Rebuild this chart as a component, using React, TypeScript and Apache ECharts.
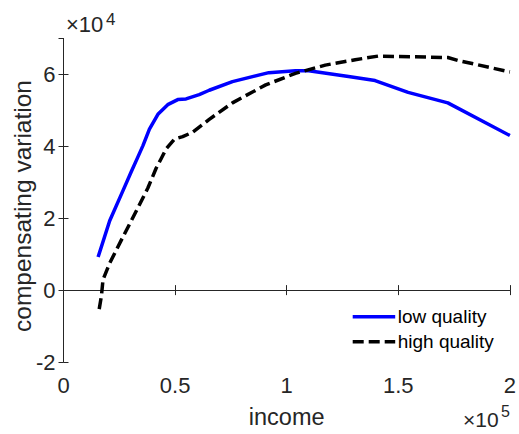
import React, { useEffect, useRef } from "react";
import * as echarts from "echarts";

// income (x) and compensating variation (y) for each series
const lowX = [15500, 20700, 26600, 30400, 33300, 35600, 38500, 42300, 46700, 51200, 54900, 60800, 65300, 75700, 92000, 103900, 109900, 127700, 139600, 154400, 172200, 200000];
const lowY = [9200, 19300, 27600, 33000, 37000, 40200, 44800, 48900, 51600, 53000, 53200, 54400, 55600, 58000, 60500, 61000, 61000, 59400, 58300, 55000, 52100, 43000];
const highX = [16000, 17000, 17700, 20700, 25900, 32600, 37800, 41500, 43800, 46000, 49700, 53400, 57800, 65300, 75700, 90600, 103900, 117300, 130700, 141000, 172200, 176700, 200000];
const highY = [-5300, -1600, 2900, 7500, 13900, 22000, 28400, 33900, 36600, 39300, 42000, 42700, 43900, 47500, 52100, 57100, 60300, 62600, 64100, 65100, 64700, 63900, 60700];
const seriesNames = ["low quality", "high quality"];
const seriesColors = ["#0000ff", "#000000"];
const xLabelText = "income";
const yLabelText = "compensating variation";

const FONT = "'Liberation Sans', Arial, Helvetica, sans-serif";
const AX = "#262626";
const DASH = [11, 5];

export default function App() {
  const ref = useRef<HTMLDivElement>(null);
  useEffect(() => {
    if (!ref.current) return;
    const chart = echarts.init(ref.current, undefined, { renderer: "svg" });
    const lowData = lowX.map((x, i) => [x, lowY[i]]);
    const highData = highX.map((x, i) => [x, highY[i]]);
    const xBase = {
      type: "value" as const,
      min: 0,
      max: 200000,
      interval: 50000,
      splitLine: { show: false },
      axisLine: { show: true, lineStyle: { color: AX, width: 1 } },
      axisTick: { show: true, inside: true, length: 5, lineStyle: { color: AX } },
    };
    const yBase = {
      type: "value" as const,
      min: -20000,
      max: 70000,
      interval: 20000,
      splitLine: { show: false },
      axisLine: { show: true, lineStyle: { color: AX, width: 1 } },
      axisTick: { show: true, inside: true, length: 5, lineStyle: { color: AX } },
    };
    const legendX = 352.7;
    const legendW = 42.5;
    const legendY = [316.7, 341.7];
    const legendGraphics: any[] = [];
    seriesNames.forEach((name, i) => {
      legendGraphics.push({
        type: "line",
        shape: { x1: legendX, y1: legendY[i], x2: legendX + legendW, y2: legendY[i] },
        style: {
          stroke: seriesColors[i],
          lineWidth: 3.5,
          lineDash: i === 1 ? DASH : null,
          lineCap: "butt",
        },
      });
      legendGraphics.push({
        type: "text",
        x: legendX + legendW + 2.5,
        y: legendY[i],
        style: {
          text: name,
          font: `19px ${FONT}`,
          fill: "#000",
          align: "left",
          verticalAlign: "middle",
        },
      });
    });
    chart.setOption({
      animation: false,
      backgroundColor: "#fff",
      grid: { left: 63.5, right: 7, top: 38.5, bottom: 68, containLabel: false },
      xAxis: [
        {
          ...xBase,
          position: "bottom",
          name: xLabelText,
          nameLocation: "middle",
          nameGap: 43,
          nameTextStyle: { fontSize: 23.5, fontFamily: FONT, color: AX },
          axisLabel: {
            margin: 12,
            fontSize: 22,
            fontFamily: FONT,
            color: AX,
            formatter: (v: number) => String(v / 100000),
          },
        },
        { ...xBase, position: "top", axisLabel: { show: false } },
      ],
      yAxis: [
        {
          ...yBase,
          position: "left",
          axisLabel: {
            margin: 8,
            fontSize: 22,
            fontFamily: FONT,
            color: AX,
            showMaxLabel: false,
            formatter: (v: number) => (v === 70000 ? "" : String(v / 10000)),
          },
        },
        { ...yBase, position: "right", axisLabel: { show: false } },
      ],
      series: [
        {
          name: seriesNames[0],
          type: "line",
          data: lowData,
          symbol: "none",
          lineStyle: { color: seriesColors[0], width: 3.5, cap: "butt", join: "round" },
          itemStyle: { color: seriesColors[0] },
          xAxisIndex: 0,
          yAxisIndex: 0,
        },
        {
          name: seriesNames[1],
          type: "line",
          data: highData,
          symbol: "none",
          lineStyle: { color: seriesColors[1], width: 3.5, type: DASH, cap: "butt", join: "round" },
          itemStyle: { color: seriesColors[1] },
          xAxisIndex: 0,
          yAxisIndex: 0,
        },
      ],
      graphic: [
        {
          type: "text",
          x: 22,
          y: 206,
          rotation: Math.PI / 2,
          style: {
            text: yLabelText,
            font: `24.5px ${FONT}`,
            fill: AX,
            align: "center",
            verticalAlign: "middle",
          },
        },
        { type: "text", left: 66, top: 13.5, style: { text: "×10", font: `22px ${FONT}`, fill: AX } },
        { type: "text", left: 106, top: 11, style: { text: "4", font: `17px ${FONT}`, fill: AX } },
        { type: "text", left: 463, top: 409, style: { text: "×10", font: `21px ${FONT}`, fill: AX } },
        { type: "text", left: 501, top: 403, style: { text: "5", font: `16px ${FONT}`, fill: AX } },
        ...legendGraphics,
      ],
    });
    return () => chart.dispose();
  }, []);
  return (
    <div
      ref={ref}
      style={{ position: "fixed", left: 0, top: 0, width: 519, height: 434, background: "#fff" }}
    />
  );
}
